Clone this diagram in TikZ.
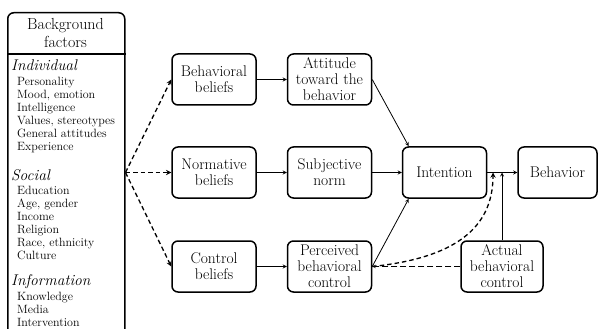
\documentclass[tikz,border=0pt]{standalone}
\usepackage{fontspec}
\usetikzlibrary{arrows}
\tikzstyle{factor} = [rectangle, rounded corners=6pt, minimum width=84pt, minimum height=51pt, inner sep=1pt, text centered, align=center, draw=black, line width=1.5pt, font=\fontsize{15.5}{16}\selectfont]
\tikzstyle{bgbox} = [rectangle, rounded corners=6pt, minimum width=117pt, minimum height=336pt, anchor=north west, draw=black, line width=1.5pt]
\tikzstyle{listtext} = [anchor=north west, align=left, inner sep=0pt, font=\fontsize{12}{13}\selectfont]
\tikzstyle{arrow} = [thick,->,>=stealth]
\tikzstyle{dasharrow} = [line width=1.3pt,dash pattern=on 4.5pt off 3pt,->,>=stealth]
\newcommand{\grouphead}[1]{{\fontsize{15.5}{14}\selectfont\itshape #1}}
\newcommand{\factoritem}[1]{\hspace*{6pt}#1}

\begin{document}
\begin{tikzpicture}[x=1pt, y=-1pt, node distance=93pt]
		\useasboundingbox (0,0) rectangle (598,329);
		% background factors
		\node (bg) [bgbox] at (7,12) {};
		\node (bghead) [font=\fontsize{16}{18}\selectfont, align=center] at (65.5,33) {Background\\factors};
		\coordinate (split) at (0,54);
		\draw [line width=1.5pt] (bg.west |- split) -- (bg.east |- split);
		\node (indiv) [listtext] at (11,59.5) {\grouphead{Individual}\\[2pt]
			\factoritem{Personality}\\ \factoritem{Mood, emotion}\\ \factoritem{Intelligence}\\
			\factoritem{Values, stereotypes}\\ \factoritem{General attitudes}\\ \factoritem{Experience}};
		\node (social) [listtext] at (11,169.5) {\grouphead{Social}\\[1pt]
			\factoritem{Education}\\ \factoritem{Age, gender}\\ \factoritem{Income}\\
			\factoritem{Religion}\\ \factoritem{Race, ethnicity}\\ \factoritem{Culture}};
		\node (info) [listtext] at (11,274.5) {\grouphead{Information}\\[2pt]
			\factoritem{Knowledge}\\ \factoritem{Media}\\ \factoritem{Intervention}};
		% main model
		\node (behav) [factor] at (214,79.5) {Behavioral\\beliefs};
		\node (norm) [factor, below of = behav] {Normative\\beliefs};
		\node (ctrl) [factor, below of = norm, yshift = -1pt] {Control\\beliefs};
		\node (att) [factor, right of = behav, xshift = 22.5pt] {Attitude\\toward the\\behavior};
		\node (subj) [factor, right of = norm, xshift = 22.5pt] {Subjective\\norm};
		\node (pbc) [factor, right of = ctrl, xshift = 22.5pt] {Perceived\\behavioral\\control};
		\node (intent) [factor, right of = subj, xshift = 22pt] {Intention};
		\node (behv) [factor, minimum width = 79pt, right of = intent, xshift = 20pt] {Behavior};
		\node (actual) [factor, minimum width = 82pt, right of = pbc, xshift = 79.5pt] {Actual\\behavioral\\control};
		\coordinate (fan) at (bg.east |- norm.west);
		\coordinate (gate) at (actual.north |- intent.east);
		\coordinate (gatepbc) at ([xshift=-9pt]gate);
		\draw [dasharrow] (fan) -- (behav.west);
		\draw [dasharrow] (fan) -- (norm);
		\draw [dasharrow] (fan) -- (ctrl.west);
		\draw [arrow] (behav) -- (att);
		\draw [arrow] (norm) -- (subj);
		\draw [arrow] (ctrl) -- (pbc);
		\draw [arrow] (att.east) -- ([xshift=7pt]intent.north west);
		\draw [arrow] (subj) -- (intent);
		\draw [arrow] (pbc.east) -- ([xshift=7pt]intent.south west);
		\draw [arrow] (intent) -- (behv);
		\draw [arrow] (actual) -- (gate);
		\draw [dasharrow] (pbc.east) .. controls (455,258) and (493,228) .. (gatepbc);
		\draw [semithick, dash pattern=on 6pt off 3pt, ->, >=stealth] (actual) -- (pbc);
	\end{tikzpicture}
\end{document}
